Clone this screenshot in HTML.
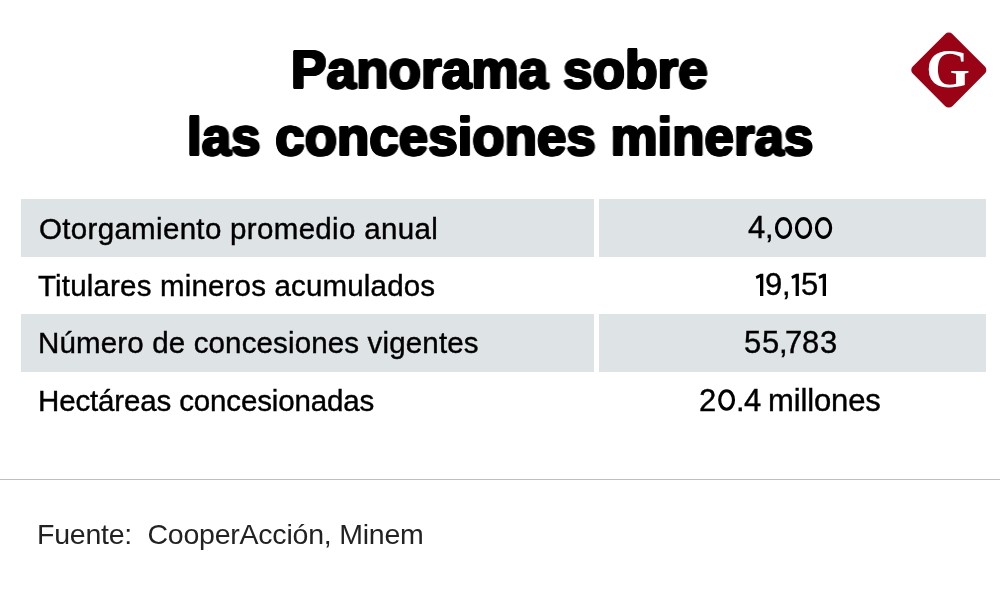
<!DOCTYPE html>
<html>
<head>
<meta charset="utf-8">
<style>
html,body{margin:0;padding:0;}
body{width:1001px;height:595px;background:#fff;position:relative;overflow:hidden;font-family:"Liberation Sans",sans-serif;}
.t{position:absolute;white-space:pre;line-height:1;transform-origin:0 0;will-change:transform;}
.ti{font-weight:bold;color:#000;}
.tx{color:#000;}
.ft{color:#222;}
.cell{position:absolute;background:#dee3e5;}
.rule{position:absolute;left:0;top:479px;width:1000px;height:1px;background:#bebebe;}
.logo{position:absolute;left:920.5px;top:41.8px;width:55.6px;height:55.6px;background:#9a0216;border-radius:5px;transform:rotate(45deg);}
.g{position:absolute;font-family:"Liberation Serif",serif;font-weight:bold;color:#fff;font-size:54px;line-height:1;}
</style>
</head>
<body>
<div class="logo"></div>
<div class="g" style="left:925.6px;top:42px;transform:scaleX(1.045);transform-origin:0 0">G</div>
<div class="cell" style="left:21px;top:199px;width:573px;height:58px"></div>
<div class="cell" style="left:599px;top:199px;width:386.6px;height:58px"></div>
<div class="cell" style="left:21px;top:314px;width:573px;height:58px"></div>
<div class="cell" style="left:599px;top:314px;width:386.6px;height:58px"></div>
<div class="rule"></div>
<div class="t ti" style="left:291.36px;top:43.0px;font-size:53.5px;transform:scaleX(0.9942);text-shadow:1.300px 0.000px 0 currentColor,-1.300px 0.000px 0 currentColor,0.000px 1.300px 0 currentColor,0.000px -1.300px 0 currentColor,0.919px 0.919px 0 currentColor,-0.919px 0.919px 0 currentColor,0.919px -0.919px 0 currentColor,-0.919px -0.919px 0 currentColor">Panorama sobre</div>
<div class="t ti" style="left:186.53px;top:110.0px;font-size:53.5px;transform:scaleX(0.9889);text-shadow:1.300px 0.000px 0 currentColor,-1.300px 0.000px 0 currentColor,0.000px 1.300px 0 currentColor,0.000px -1.300px 0 currentColor,0.919px 0.919px 0 currentColor,-0.919px 0.919px 0 currentColor,0.919px -0.919px 0 currentColor,-0.919px -0.919px 0 currentColor">las concesiones mineras</div>
<div class="t tx" style="left:38.85px;top:213.52px;font-size:29.5px;transform:scaleX(1);-webkit-text-stroke:0.4px currentColor;letter-spacing:0.323px">Otorgamiento promedio anual</div>
<div class="t tx" style="left:38.2px;top:270.82px;font-size:29.5px;transform:scaleX(1);-webkit-text-stroke:0.4px currentColor;letter-spacing:0.172px">Titulares mineros acumulados</div>
<div class="t tx" style="left:37.95px;top:328.22px;font-size:29.5px;transform:scaleX(1);-webkit-text-stroke:0.4px currentColor;letter-spacing:0.15px">Número de concesiones vigentes</div>
<div class="t tx" style="left:37.75px;top:385.52px;font-size:29.5px;transform:scaleX(1);-webkit-text-stroke:0.4px currentColor;letter-spacing:-0.148px">Hectáreas concesionadas</div>
<div class="t tx" style="left:768.05px;top:384.55px;font-size:31px;transform:scaleX(1);-webkit-text-stroke:0.4px currentColor;letter-spacing:-0.121px">millones</div>
<div class="t ft" style="left:37.35px;top:519.77px;font-size:28.5px;transform:scaleX(1);letter-spacing:-0.226px">Fuente:  CooperAcción, Minem</div>
<div class="t tx" style="left:764.85px;top:269.35px;font-size:31px;-webkit-text-stroke:0.4px currentColor">9</div>
<div class="t tx" style="left:782.11px;top:269.35px;font-size:31px;-webkit-text-stroke:0.4px currentColor">,</div>
<div class="t tx" style="left:800.66px;top:269.35px;font-size:31px;-webkit-text-stroke:0.4px currentColor">5</div>
<svg style="position:absolute;left:0;top:0" width="1001" height="595"><g fill="#000"><polygon transform="translate(0 0)" points="763.3,273.7 763.3,296 760,296 760,277.4 756.6,278.9 755.7,276.3 760.5,273.7"/><polygon transform="translate(35.6 0)" points="763.3,273.7 763.3,296 760,296 760,277.4 756.6,278.9 755.7,276.3 760.5,273.7"/><polygon transform="translate(62.7 0)" points="763.3,273.7 763.3,296 760,296 760,277.4 756.6,278.9 755.7,276.3 760.5,273.7"/></g></svg>
<div class="t tx" style="left:748.49px;top:211.85px;font-size:31px;-webkit-text-stroke:0.4px currentColor">4</div>
<div class="t tx" style="left:765.11px;top:211.85px;font-size:31px;-webkit-text-stroke:0.4px currentColor">,</div>
<svg style="position:absolute;left:0;top:0" width="1001" height="595"><ellipse cx="783.55" cy="228" rx="7.1" ry="9.35" fill="none" stroke="#000" stroke-width="3.1"/><ellipse cx="803.55" cy="228" rx="7.1" ry="9.35" fill="none" stroke="#000" stroke-width="3.1"/><ellipse cx="823.55" cy="228" rx="7.1" ry="9.35" fill="none" stroke="#000" stroke-width="3.1"/></svg>
<div class="t tx" style="left:699.44px;top:384.55px;font-size:31px;-webkit-text-stroke:0.4px currentColor">2</div>
<div class="t tx" style="left:735.77px;top:384.55px;font-size:31px;-webkit-text-stroke:0.4px currentColor">.</div>
<div class="t tx" style="left:744.29px;top:384.55px;font-size:31px;-webkit-text-stroke:0.4px currentColor">4</div>
<svg style="position:absolute;left:0;top:0" width="1001" height="595"><ellipse cx="726.6" cy="400" rx="6.9" ry="9.25" fill="none" stroke="#000" stroke-width="3.1"/></svg>
<div class="t tx" style="left:744.46px;top:327.35px;font-size:31px;-webkit-text-stroke:0.4px currentColor">5</div>
<div class="t tx" style="left:761.66px;top:327.35px;font-size:31px;-webkit-text-stroke:0.4px currentColor">5</div>
<div class="t tx" style="left:779.21px;top:327.35px;font-size:31px;-webkit-text-stroke:0.4px currentColor">,</div>
<div class="t tx" style="left:785.31px;top:327.35px;font-size:31px;-webkit-text-stroke:0.4px currentColor">7</div>
<div class="t tx" style="left:801.55px;top:327.35px;font-size:31px;-webkit-text-stroke:0.4px currentColor">8</div>
<div class="t tx" style="left:819.92px;top:327.35px;font-size:31px;-webkit-text-stroke:0.4px currentColor">3</div>
</body>
</html>
